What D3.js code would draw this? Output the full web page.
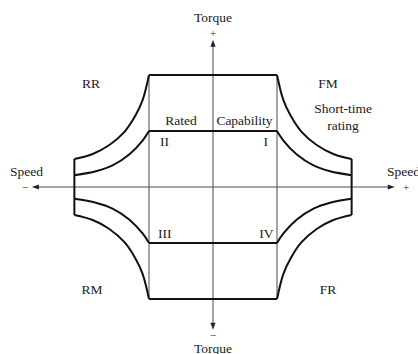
<!DOCTYPE html>
<html>
<head>
<meta charset="utf-8">
<script src="https://cdn.jsdelivr.net/npm/d3@7"></script>
<style>
  html, body { margin: 0; padding: 0; background: #fff; }
  svg { display: block; }
  text { font-family: "Liberation Serif", "DejaVu Serif", serif; font-size: 13.5px; fill: #1a1a1a; }
  text.sign { font-size: 11px; }
</style>
</head>
<body>
<svg id="chart" width="418" height="354"></svg>
<script>
// Per-unit operating envelope: speed in multiples of base speed, torque in multiples of rated torque
const baseSpeed = 1.0;
const maxSpeed = 2.166;
const ratedTorque = 1.0;
const peakTorque = 2.0;

// Short-time (peak) rating boundary in the field-weakening range, quadrant I
const shortTimeSpeed  = [1.00, 1.10, 1.21, 1.38, 1.62, 1.88, 2.166];
const shortTimeTorque = [2.00, 1.55, 1.28, 0.99, 0.75, 0.59, 0.50];

// Continuous (rated) capability boundary in the field-weakening range, quadrant I
const ratedSpeed  = [1.00, 1.10, 1.31, 1.57, 1.83, 2.166];
const ratedTorqueCurve = [1.00, 0.83, 0.58, 0.385, 0.28, 0.21];

// Axis extents (arrow tips)
const speedAxisExtent  = [-2.83, 2.84];
const torqueAxisExtent = [-2.55, 2.63];

// Quadrant signs: [speed sign, torque sign]
const quadrantSigns = [[1, 1], [-1, 1], [-1, -1], [1, -1]];
const quadrantNames = ["I", "II", "III", "IV"];
const regionNames   = ["FM", "RR", "RM", "FR"];

const svg = d3.select("#chart");
const cx = 213, cy = 187;
const x = d3.scaleLinear().domain([-1, 1]).range([cx - 64, cx + 64]);
const y = d3.scaleLinear().domain([-1, 1]).range([cy + 56, cy - 56]);

const thin = "#4a4a4a";
const bold = "#111";

// Thin verticals of the base-speed region
[-baseSpeed, baseSpeed].forEach(s => {
  svg.append("line")
    .attr("x1", x(s)).attr("x2", x(s))
    .attr("y1", y(peakTorque)).attr("y2", y(-peakTorque))
    .attr("stroke", thin).attr("stroke-width", 1);
});

// Axes with arrowheads
svg.append("line")
  .attr("x1", x(speedAxisExtent[0]) + 4).attr("x2", x(speedAxisExtent[1]) - 4)
  .attr("y1", y(0)).attr("y2", y(0))
  .attr("stroke", thin).attr("stroke-width", 1);
svg.append("line")
  .attr("x1", x(0)).attr("x2", x(0))
  .attr("y1", y(torqueAxisExtent[1]) + 4).attr("y2", y(torqueAxisExtent[0]) - 4)
  .attr("stroke", thin).attr("stroke-width", 1);

function arrow(px, py, dx, dy) {
  const L = 7, W = 2.6;
  const nx = -dy, ny = dx;
  const bx = px - dx * L, by = py - dy * L;
  svg.append("path")
    .attr("d", `M${px},${py}L${bx + nx * W},${by + ny * W}L${bx - nx * W},${by - ny * W}Z`)
    .attr("fill", "#222");
}
arrow(x(speedAxisExtent[1]), y(0), 1, 0);
arrow(x(speedAxisExtent[0]), y(0), -1, 0);
arrow(x(0), y(torqueAxisExtent[1]), 0, -1);
arrow(x(0), y(torqueAxisExtent[0]), 0, 1);

// Envelope boundaries
const line = d3.line().x(d => x(d[0])).y(d => y(d[1])).curve(d3.curveCatmullRom.alpha(0.5));
const straight = d3.line().x(d => x(d[0])).y(d => y(d[1]));

function drawBold(gen, pts) {
  svg.append("path").attr("d", gen(pts))
    .attr("fill", "none").attr("stroke", bold).attr("stroke-width", 2)
    .attr("stroke-linejoin", "round");
}

// Horizontal torque limits in the constant-torque region
[peakTorque, ratedTorque, -ratedTorque, -peakTorque].forEach(t => {
  drawBold(straight, [[-baseSpeed, t], [baseSpeed, t]]);
});

// Field-weakening boundaries mirrored into each quadrant
quadrantSigns.forEach(([ss, ts]) => {
  drawBold(line, shortTimeSpeed.map((s, i) => [ss * s, ts * shortTimeTorque[i]]));
  drawBold(line, ratedSpeed.map((s, i) => [ss * s, ts * ratedTorqueCurve[i]]));
});

// Maximum-speed limits
const edgeTorque = shortTimeTorque[shortTimeTorque.length - 1];
[-maxSpeed, maxSpeed].forEach(s => {
  drawBold(straight, [[s, edgeTorque], [s, -edgeTorque]]);
});

// Axis labels
function label(txt, px, py, anchor, cls) {
  svg.append("text").attr("x", px).attr("y", py)
    .attr("class", cls || null)
    .attr("text-anchor", anchor || "middle").text(txt);
}
label("Torque", x(0), 22);
label("+", x(0), 37, "middle", "sign");
label("\u2212", x(0), 339, "middle", "sign");
label("Torque", x(0), 352.5);
label("Speed", 10, 175.5, "start");
label("\u2212", 25, 190.5, "middle", "sign");
label("Speed", 387, 175.5, "start");
label("+", 406, 190.5, "middle", "sign");

// Region labels (motoring / regenerating, forward / reverse)
label(regionNames[0], 328, 87.5);
label(regionNames[1], 91, 87.5);
label(regionNames[2], 92, 294);
label(regionNames[3], 328, 294);

label("Short-time", 343, 112.5);
label("rating", 343, 129.5);
label("Rated", 181, 125);
label("Capability", 244.5, 125);

// Quadrant numerals
label(quadrantNames[0], 268, 146, "end");
label(quadrantNames[1], 160, 146, "start");
label(quadrantNames[2], 158, 237.5, "start");
label(quadrantNames[3], 273.5, 237.5, "end");
</script>
</body>
</html>
